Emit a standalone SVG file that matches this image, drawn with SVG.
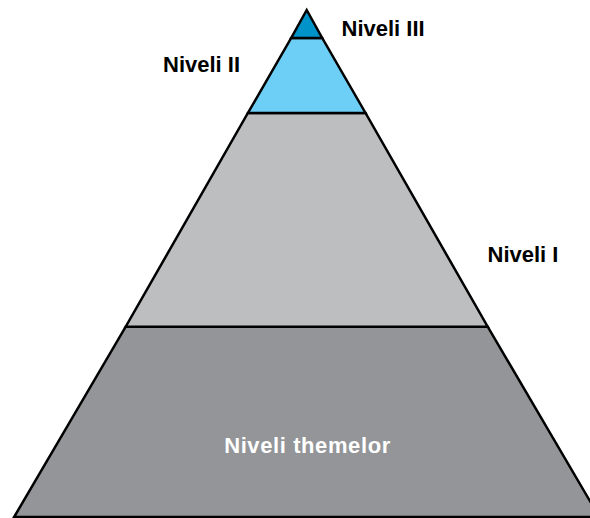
<svg xmlns="http://www.w3.org/2000/svg" width="590" height="518" viewBox="0 0 590 518">
<style>
.tier{stroke:#000;stroke-width:2.5;stroke-linejoin:miter}
.lbl{font-family:"Liberation Sans",Arial,sans-serif;font-weight:bold;font-size:22px;fill:#000}
.lbl-w{fill:#fff}
</style>
<rect width="590" height="518" fill="#fff"/>
<g id="tier-base">
<polygon class="tier" points="125.7,326.7 487.7,326.7 599.3,517 14.1,517" fill="#939598"/>
<text class="lbl lbl-w" x="307.5" y="453.3" text-anchor="middle" letter-spacing="0.6">Niveli themelor</text>
</g>
<g id="tier-1">
<polygon class="tier" points="247.9,113 365.5,113 487.7,326.7 125.7,326.7" fill="#bcbec0"/>
<text class="lbl" x="487.5" y="261.7">Niveli I</text>
</g>
<g id="tier-2">
<polygon class="tier" points="291.2,38 322.2,38 365.5,113 247.9,113" fill="#6dcff6"/>
<text class="lbl" x="163" y="71.7">Niveli II</text>
</g>
<g id="tier-3">
<polygon class="tier" points="306.7,10 322.2,38 291.2,38" fill="#0093c9"/>
<text class="lbl" x="341.5" y="35.7">Niveli III</text>
</g>
<g id="connectors"/>
</svg>
